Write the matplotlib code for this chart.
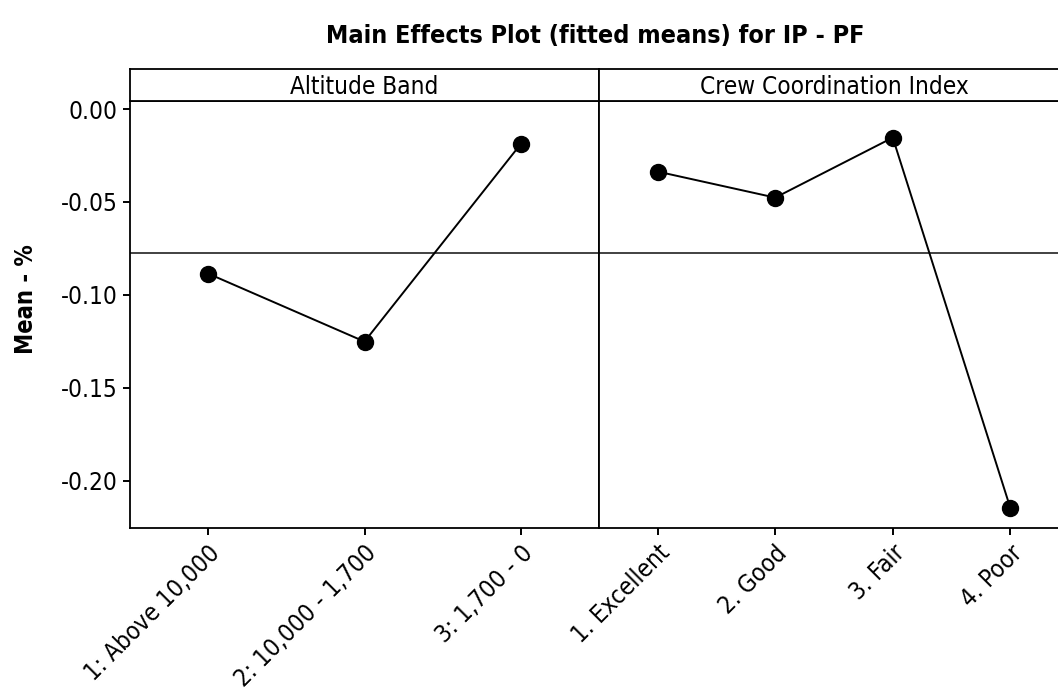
import matplotlib
matplotlib.use("Agg")
import matplotlib.pyplot as plt

# values
altitude_levels = ["1: Above 10,000", "2: 10,000 - 1,700", "3: 1,700 - 0"]
altitude_means = [-0.0886, -0.1252, -0.0188]
crew_levels = ["1. Excellent", "2. Good", "3. Fair", "4. Poor"]
crew_means = [-0.0337, -0.0477, -0.0154, -0.2146]
grand_mean = -0.0775
yticks = [0.00, -0.05, -0.10, -0.15, -0.20]

panels = [
    ("Altitude Band", altitude_levels, altitude_means),
    ("Crew Coordination Index", crew_levels, crew_means),
]

plt.rcParams["font.family"] = ["DejaVu Sans"]
plt.rcParams["font.stretch"] = "condensed"

W, H = 1058, 698
fig = plt.figure(figsize=(W / 100, H / 100), dpi=100)

# panel geometry in pixels (left edge, width)
px_boxes = [(130, 469), (599, 470)]
top_hdr, top_data, bottom = 69, 100.7, 528.3


def fx(px):
    return px / W


def fy(py):
    return 1 - py / H


ylim = (-0.2257, 0.00447)
lw = 1.3
fs = 17.5
for i, ((title, levels, means), (x0, w)) in enumerate(zip(panels, px_boxes)):
    ax = fig.add_axes([fx(x0), fy(bottom), w / W, (bottom - top_data) / H])
    hdr = fig.add_axes([fx(x0), fy(top_data), w / W, (top_data - top_hdr) / H])
    hdr.set_xticks([])
    hdr.set_yticks([])
    hdr.text(0.5, 0.42, title, ha="center", va="center", fontsize=fs,
             transform=hdr.transAxes)
    for a in (ax, hdr):
        for s in a.spines.values():
            s.set_linewidth(lw)

    x = list(range(1, len(levels) + 1))
    ax.axhline(grand_mean, color="#333333", lw=1.3, zorder=1)
    ax.plot(x, means, color="black", lw=1.4, marker="o", markersize=11.5,
            zorder=3)
    ax.set_xlim(0.5, len(levels) + 0.5)
    ax.set_ylim(*ylim)
    ax.set_xticks(x)
    ax.set_xticklabels(levels, rotation=45, ha="right",
                       rotation_mode="anchor", fontsize=fs)
    ax.tick_params(axis="both", length=5, width=1.4, labelsize=fs, pad=4)
    if i == 0:
        ax.set_yticks(yticks)
        ax.set_yticklabels([f"{v:.2f}" for v in yticks])
    else:
        ax.set_yticks([])

fig.text(fx(26), fy((top_hdr + bottom) / 2), "Mean - %", rotation=90,
         ha="center", va="center", fontsize=17, fontweight="bold")
fig.text(fx(595), fy(36), "Main Effects Plot (fitted means) for IP - PF",
         ha="center", va="center", fontsize=18, fontweight="bold")

fig.savefig("out.png", dpi=100)
